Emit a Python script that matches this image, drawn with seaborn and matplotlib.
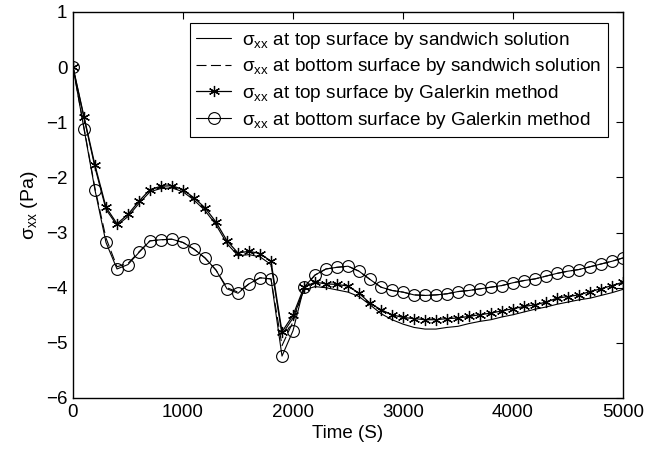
import matplotlib
matplotlib.use("Agg")
import matplotlib.pyplot as plt
import numpy as np
import pandas as pd
import seaborn as sns

# Time grid (s) shared by all series
time = list(range(0, 5001, 100))

# sigma_xx at top surface, sandwich solution (solid)
sandwich_top = [
    0.00, -0.92, -1.82, -2.58, -2.87, -2.71, -2.47, -2.26, -2.20, -2.19,
    -2.26, -2.41, -2.60, -2.86, -3.20, -3.42, -3.40, -3.44, -3.58, -4.85,
    -4.55, -4.04, -3.98, -4.00, -4.04, -4.08, -4.16, -4.31, -4.47, -4.58,
    -4.66, -4.72, -4.75, -4.75, -4.72, -4.70, -4.65, -4.61, -4.58, -4.53,
    -4.49, -4.44, -4.39, -4.35, -4.30, -4.26, -4.22, -4.19, -4.14, -4.09,
    -4.03,
]

# sigma_xx at bottom surface, sandwich solution (dashed)
sandwich_bottom = [
    0.00, -1.10, -2.20, -3.10, -3.62, -3.56, -3.35, -3.15, -3.13, -3.12,
    -3.18, -3.30, -3.46, -3.68, -4.00, -4.08, -3.93, -3.82, -3.84, -5.05,
    -4.62, -4.00, -3.77, -3.66, -3.63, -3.61, -3.70, -3.85, -3.99, -4.05,
    -4.08, -4.13, -4.14, -4.13, -4.11, -4.07, -4.05, -4.02, -3.99, -3.96,
    -3.91, -3.87, -3.84, -3.79, -3.74, -3.70, -3.67, -3.62, -3.57, -3.52,
    -3.46,
]

# sigma_xx at top surface, Galerkin method (asterisks)
galerkin_top = [
    0.00, -0.90, -1.78, -2.54, -2.84, -2.67, -2.43, -2.22, -2.16, -2.15,
    -2.22, -2.37, -2.55, -2.81, -3.15, -3.37, -3.34, -3.38, -3.52, -4.80,
    -4.50, -3.99, -3.90, -3.93, -3.94, -3.97, -4.10, -4.28, -4.40, -4.49,
    -4.54, -4.56, -4.58, -4.58, -4.56, -4.55, -4.52, -4.49, -4.46, -4.42,
    -4.38, -4.34, -4.31, -4.26, -4.19, -4.16, -4.13, -4.07, -4.02, -3.96,
    -3.90,
]

# sigma_xx at bottom surface, Galerkin method (circles)
galerkin_bottom = [
    0.00, -1.12, -2.23, -3.18, -3.66, -3.58, -3.36, -3.15, -3.13, -3.12,
    -3.18, -3.30, -3.46, -3.68, -4.02, -4.10, -3.93, -3.82, -3.84, -5.24,
    -4.78, -3.99, -3.77, -3.66, -3.63, -3.61, -3.70, -3.85, -3.99, -4.05,
    -4.08, -4.13, -4.14, -4.13, -4.11, -4.07, -4.05, -4.02, -3.99, -3.96,
    -3.91, -3.87, -3.84, -3.79, -3.74, -3.70, -3.67, -3.62, -3.57, -3.52,
    -3.46,
]

labels = [
    r"$\sigma_{xx}$ at top surface by sandwich solution",
    r"$\sigma_{xx}$ at bottom surface by sandwich solution",
    r"$\sigma_{xx}$ at top surface by Galerkin method",
    r"$\sigma_{xx}$ at bottom surface by Galerkin method",
]

sns.set_theme(style="white")
plt.rcParams.update({
    "font.family": ["Liberation Sans", "DejaVu Sans"],
    "mathtext.fontset": "custom",
    "mathtext.rm": "Liberation Sans",
    "mathtext.it": "Liberation Sans",
    "mathtext.default": "regular",
    "axes.edgecolor": "black",
    "axes.linewidth": 1.0,
    "xtick.direction": "in",
    "ytick.direction": "in",
    "xtick.color": "black",
    "ytick.color": "black",
    "text.color": "black",
    "axes.labelcolor": "black",
})

fig = plt.figure(figsize=(6.59, 4.55), dpi=100)
ax = fig.add_axes([73 / 659, 1 - 398 / 455, (623 - 73) / 659, (398 - 12) / 455])

df = pd.DataFrame({
    "time": time,
    "st": sandwich_top,
    "sb": sandwich_bottom,
    "gt": galerkin_top,
    "gb": galerkin_bottom,
})

sns.lineplot(data=df, x="time", y="st", ax=ax, color="black", lw=0.8,
             label=labels[0])
sns.lineplot(data=df, x="time", y="sb", ax=ax, color="black", lw=0.8,
             dashes=False, linestyle=(0, (9, 4)), label=labels[1])
sns.lineplot(data=df, x="time", y="gt", ax=ax, color="black", lw=0.9,
             marker=(6, 2, 0), markersize=8, markeredgewidth=0.9,
             markeredgecolor="black", label=labels[2])
sns.lineplot(data=df, x="time", y="gb", ax=ax, color="black", lw=0.8,
             marker="o", markersize=8.5, markerfacecolor="none",
             markeredgewidth=0.8, markeredgecolor="black", label=labels[3])

ax.set_xlim(0, 5000)
ax.set_ylim(-6, 1)
ax.set_xticks([0, 1000, 2000, 3000, 4000, 5000])
ax.set_yticks(list(range(-6, 2)))
ax.tick_params(which="both", direction="in", length=5, width=0.8,
               labelsize=13.5, top=True, right=True, pad=4)
for s in ax.spines.values():
    s.set_visible(True)
    s.set_color("black")
ax.set_xlabel("Time (S)", fontsize=13.5, labelpad=3)
ax.set_ylabel(r"$\sigma_{xx}$ (Pa)", fontsize=14, labelpad=4)

leg = ax.legend(loc="upper right", fontsize=13.7, frameon=True,
                fancybox=False, edgecolor="black", framealpha=1,
                handlelength=1.8, borderpad=0.35, labelspacing=0.3,
                handletextpad=0.6, borderaxespad=0)
leg.set_bbox_to_anchor((608 / 659, 1 - 23 / 455), transform=fig.transFigure)
leg.get_frame().set_linewidth(0.8)

fig.savefig("out.png", dpi=100)
